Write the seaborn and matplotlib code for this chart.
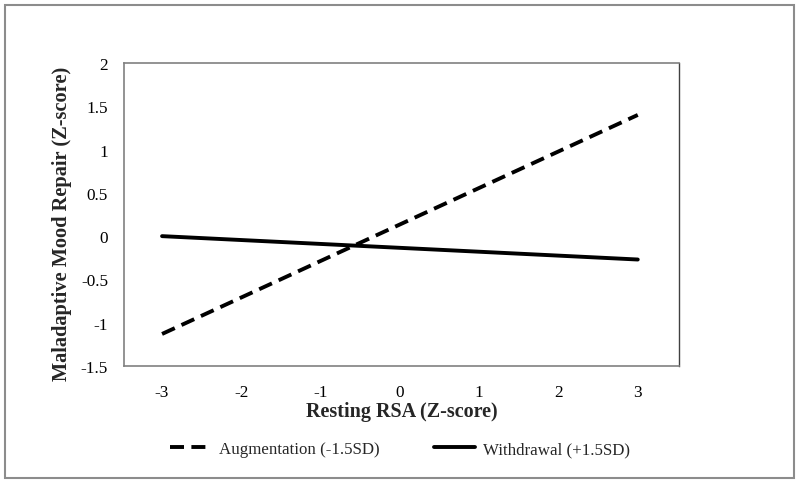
import pandas as pd
import numpy as np
import matplotlib
matplotlib.use("Agg")
import matplotlib.pyplot as plt
import seaborn as sns
from matplotlib.patches import Rectangle

# ── data ─────────────────────────────────────────────────────────────────────
rsa_z        = [-3, 3]
augmentation = [-1.13, 1.40]
withdrawal   = [0.0, -0.27]
series_names = ["Augmentation (-1.5SD)", "Withdrawal (+1.5SD)"]
x_ticks      = [-3, -2, -1, 0, 1, 2, 3]
y_ticks      = [-1.5, -1, -0.5, 0, 0.5, 1, 1.5, 2]

df = pd.DataFrame({
    "rsa": rsa_z * 2,
    "repair": augmentation + withdrawal,
    "group": [series_names[0]] * 2 + [series_names[1]] * 2,
})

sns.set_theme(style="white")
plt.rcParams["font.family"] = ["Liberation Serif", "DejaVu Serif"]
plt.rcParams["axes.unicode_minus"] = False

fig = plt.figure(figsize=(8, 4.85), dpi=100)
ax = fig.add_axes([124 / 800, 1 - 367 / 485, (679 - 124) / 800, (367 - 64) / 485])

dash = (3.6, 1.9)
sns.lineplot(data=df, x="rsa", y="repair", style="group", hue="group",
             palette=["black", "black"],
             dashes={series_names[0]: dash, series_names[1]: ""},
             linewidth=2.8, ax=ax, legend=False)

ax.set_xlim(-3.48, 3.52)
ax.set_ylim(-1.5, 2)
ax.set_xticks(x_ticks)
ax.set_xticklabels([str(v) for v in x_ticks])
ax.set_yticks(y_ticks)
ax.set_yticklabels([f"{v:g}" for v in y_ticks])
ax.tick_params(axis="both", length=0, labelsize=12.4, colors="black")
ax.tick_params(axis="x", pad=13)
ax.tick_params(axis="y", pad=11.5)

for side in ["left", "bottom", "top"]:
    ax.spines[side].set_color("#808080")
    ax.spines[side].set_linewidth(1.2)
ax.spines["right"].set_color("#404040")
ax.spines["right"].set_linewidth(1.0)

ax.set_xlabel("Resting RSA (Z-score)", fontsize=14.5, fontweight="bold", labelpad=1)
ax.set_ylabel("Maladaptive Mood Repair (Z-score)", fontsize=14.7, fontweight="bold")
ax.yaxis.set_label_coords(-0.094, 0.472)

# legend below the axis, Excel style
handles = [plt.Line2D([], [], color="black", lw=2.8, dashes=dash),
           plt.Line2D([], [], color="black", lw=2.8)]
fig.legend(handles, series_names, loc="center", bbox_to_anchor=(0.5, 1 - 450 / 485),
           ncol=2, frameon=False, fontsize=12.2, handlelength=2.4,
           columnspacing=3.2, handletextpad=0.5)

# outer chart border
fig.patches.append(Rectangle((5 / 800, 6 / 485), 789 / 800, 473 / 485,
                             transform=fig.transFigure, fill=False,
                             edgecolor="#8c8c8c", linewidth=1.5))

fig.savefig("out.png", dpi=100)
